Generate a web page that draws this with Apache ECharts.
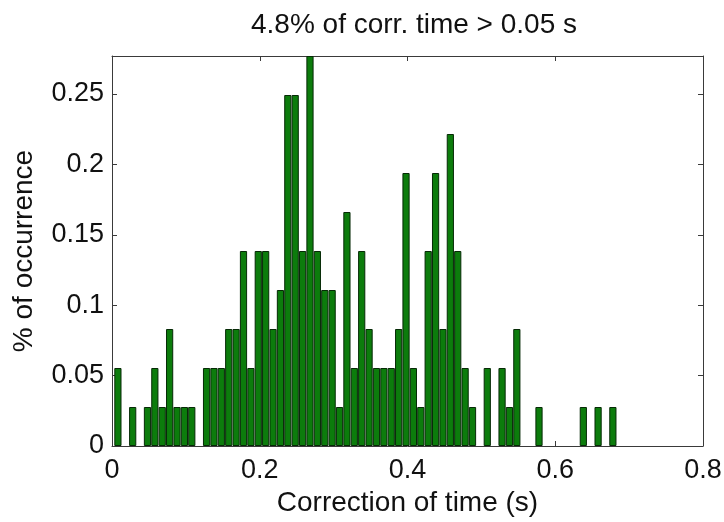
<!DOCTYPE html>
<html>
<head>
<meta charset="utf-8">
<script src="https://cdn.jsdelivr.net/npm/echarts@6/dist/echarts.min.js"></script>
<style>
html,body{margin:0;padding:0;background:#fff;}
#c{width:724px;height:522px;}
</style>
</head>
<body>
<div id="c"></div>
<script>
// Histogram bin centers (s)
var binCenters = [
  0.008, 0.018, 0.028, 0.038, 0.048, 0.058, 0.068, 0.078, 0.088, 0.098,
  0.108, 0.118, 0.128, 0.138, 0.148, 0.158, 0.168, 0.178, 0.188, 0.198,
  0.208, 0.218, 0.228, 0.238, 0.248, 0.258, 0.268, 0.278, 0.288, 0.298,
  0.308, 0.318, 0.328, 0.338, 0.348, 0.358, 0.368, 0.378, 0.388, 0.398,
  0.408, 0.418, 0.428, 0.438, 0.448, 0.458, 0.468, 0.478, 0.488, 0.498,
  0.508, 0.518, 0.528, 0.538, 0.548, 0.558, 0.568, 0.578, 0.588, 0.598,
  0.608, 0.618, 0.628, 0.638, 0.648, 0.658, 0.668, 0.678
];
// % of occurrence per bin
var occurrence = [
  0.0554, 0, 0.0277, 0, 0.0277, 0.0554, 0.0277, 0.0831, 0.0277, 0.0277,
  0.0277, 0, 0.0554, 0.0554, 0.0554, 0.0831, 0.0831, 0.1385, 0.0554, 0.1385,
  0.1385, 0.0831, 0.1108, 0.2493, 0.2493, 0.1385, 0.2770, 0.1385, 0.1108, 0.1108,
  0.0277, 0.1662, 0.0554, 0.1385, 0.0831, 0.0554, 0.0554, 0.0554, 0.0831, 0.1939,
  0.0554, 0.0277, 0.1385, 0.1939, 0.0831, 0.2216, 0.1385, 0.0554, 0.0277, 0,
  0.0554, 0, 0.0554, 0.0277, 0.0831, 0, 0, 0.0277, 0, 0,
  0, 0, 0, 0.0277, 0, 0.0277, 0, 0.0277
];
var xTicks = [0, 0.2, 0.4, 0.6, 0.8];
var yTicks = [0, 0.05, 0.1, 0.15, 0.2, 0.25];
var titleText = '4.8% of corr. time > 0.05 s';
var xName = 'Correction of time (s)';
var yName = '% of occurrence';

var data = [];
for (var i = 0; i < binCenters.length; i++) {
  if (occurrence[i] > 0) data.push([binCenters[i], occurrence[i]]);
}

var FONT = 'Liberation Sans, Arial, sans-serif';
var frame = '#3a3a3a';
var fmt = function (v) { return String(+v.toFixed(2)); };
var chart = echarts.init(document.getElementById('c'), null, {renderer: 'canvas'});
chart.setOption({
  animation: false,
  backgroundColor: '#ffffff',
  title: {
    text: titleText,
    left: 409, top: 6, textAlign: 'center',
    textStyle: {fontFamily: FONT, fontSize: 28, fontWeight: 'normal', color: '#111'}
  },
  grid: {left: 112, right: 21, top: 56, bottom: 76, containLabel: false, outerBoundsMode: 'none'},
  xAxis: [{
    type: 'value', min: xTicks[0], max: xTicks[xTicks.length - 1], interval: 0.2,
    position: 'bottom',
    axisLine: {show: true, onZero: false, lineStyle: {color: frame, width: 1}},
    axisTick: {show: true, inside: true, length: 5, lineStyle: {color: frame}},
    splitLine: {show: false},
    axisLabel: {fontFamily: FONT, fontSize: 27, color: '#111', margin: 11, formatter: fmt},
    name: xName, nameLocation: 'middle', nameGap: 42,
    nameTextStyle: {fontFamily: FONT, fontSize: 28, color: '#111'}
  }, {
    type: 'value', min: 0, max: 0.8, interval: 0.2, position: 'top',
    axisLine: {show: true, onZero: false, lineStyle: {color: frame, width: 1}},
    axisTick: {show: true, inside: true, length: 5, lineStyle: {color: frame}},
    axisLabel: {show: false}, splitLine: {show: false}
  }],
  yAxis: [{
    type: 'value', min: yTicks[0], max: 0.277, interval: 0.05,
    position: 'left',
    axisLine: {show: true, onZero: false, lineStyle: {color: frame, width: 1}},
    axisTick: {show: true, inside: true, length: 5, lineStyle: {color: frame}},
    splitLine: {show: false},
    axisLabel: {fontFamily: FONT, fontSize: 27, color: '#111', margin: 8, showMaxLabel: false, formatter: fmt},
    name: yName, nameLocation: 'middle', nameGap: 74, nameRotate: 90,
    nameTextStyle: {fontFamily: FONT, fontSize: 28, color: '#111'}
  }, {
    type: 'value', min: 0, max: 0.277, interval: 0.05, position: 'right',
    axisLine: {show: true, onZero: false, lineStyle: {color: frame, width: 1}},
    axisTick: {show: true, inside: true, length: 5, lineStyle: {color: frame}},
    axisLabel: {show: false}, splitLine: {show: false}
  }],
  series: [{
    type: 'bar',
    xAxisIndex: 0, yAxisIndex: 0,
    data: data,
    barWidth: 7.2,
    clip: true,
    itemStyle: {color: '#0c7c0c', borderColor: '#062a06', borderWidth: 1}
  }]
});
</script>
</body>
</html>
